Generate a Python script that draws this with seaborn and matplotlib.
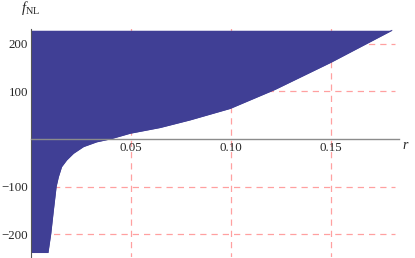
import matplotlib
matplotlib.use("Agg")
import matplotlib.pyplot as plt
import numpy as np
import seaborn as sns
from matplotlib.ticker import MultipleLocator

# values
r_vals = [0.0085, 0.0099, 0.0112, 0.0126, 0.0137, 0.0153, 0.0178, 0.0212,
          0.0262, 0.0328, 0.0395, 0.0445, 0.0495, 0.0645, 0.0795, 0.0995,
          0.1220, 0.1500, 0.1805]
fnl_vals = [-238, -198, -149, -99, -79, -58, -44, -30,
            -16, -6, 0, 6, 12, 24, 40, 64,
            104, 161, 228]
fnl_floor = -238   # lower clip of the plot range
fnl_top = 228      # upper clip of the plot range
x_ticks = [0.05, 0.10, 0.15]
x_tick_labels = ["0.05", "0.10", "0.15"]
y_ticks = [-200, -100, 100, 200]

sns.set_style("white")
plt.rcParams["font.family"] = ["Liberation Serif", "DejaVu Serif"]
plt.rcParams["mathtext.fontset"] = "custom"
plt.rcParams["mathtext.rm"] = "Liberation Serif"
plt.rcParams["mathtext.it"] = "Liberation Serif:italic"

fill_col = "#403F95"
grid_col = "#FFA0A0"
axis_col = "#8C8C8C"

fig = plt.figure(figsize=(4.15, 2.58), dpi=100)
ax = fig.add_axes([0.0747, 0.0027, 0.8867, 0.8856])

r = np.r_[0.0, r_vals]
lower = np.r_[fnl_floor, fnl_vals]

# gridlines sit behind the filled region
ax.hlines(y_ticks, 0, 0.182, colors=grid_col, linestyles=(0, (5, 4)), lw=0.9, zorder=0.5)
ax.vlines(x_ticks, -260, 240, colors=grid_col, linestyles=(0, (5, 4)), lw=0.9, zorder=0.5)

ax.fill_between(r, lower, fnl_top, color=fill_col, lw=0, zorder=5)
sns.lineplot(x=r, y=lower, color=fill_col, lw=0.6, ax=ax, zorder=5, sort=False)

ax.set_xlim(0, 0.184)
ax.set_ylim(-248, 231)

for s in ["top", "right"]:
    ax.spines[s].set_visible(False)
ax.spines["bottom"].set_position(("data", 0))
ax.spines["bottom"].set_color(axis_col)
ax.spines["bottom"].set_linewidth(1.0)
ax.spines["bottom"].set_zorder(6)
ax.spines["left"].set_color("#555555")
ax.spines["left"].set_linewidth(0.8)
ax.spines["left"].set_zorder(6)

ax.set_xticks(x_ticks)
ax.set_xticklabels(x_tick_labels)
ax.set_yticks(y_ticks)
ax.xaxis.set_minor_locator(MultipleLocator(0.01))
ax.yaxis.set_minor_locator(MultipleLocator(20))
ax.tick_params(axis="both", which="major", direction="in", length=4, width=0.6,
               color="#333333", labelsize=9.3, pad=2)
ax.tick_params(axis="both", which="minor", direction="in", length=2.2, width=0.5,
               color="#333333")
ax.xaxis.set_zorder(7)
ax.yaxis.set_zorder(7)

ax.text(1.008, 0.49, r"$r$", transform=ax.transAxes, fontsize=10,
        ha="left", va="center")
ax.text(0.0, 1.09, r"$f_{\rm NL}$", transform=ax.transAxes, fontsize=10.5,
        ha="center", va="center")

fig.savefig("out.png", dpi=100)
